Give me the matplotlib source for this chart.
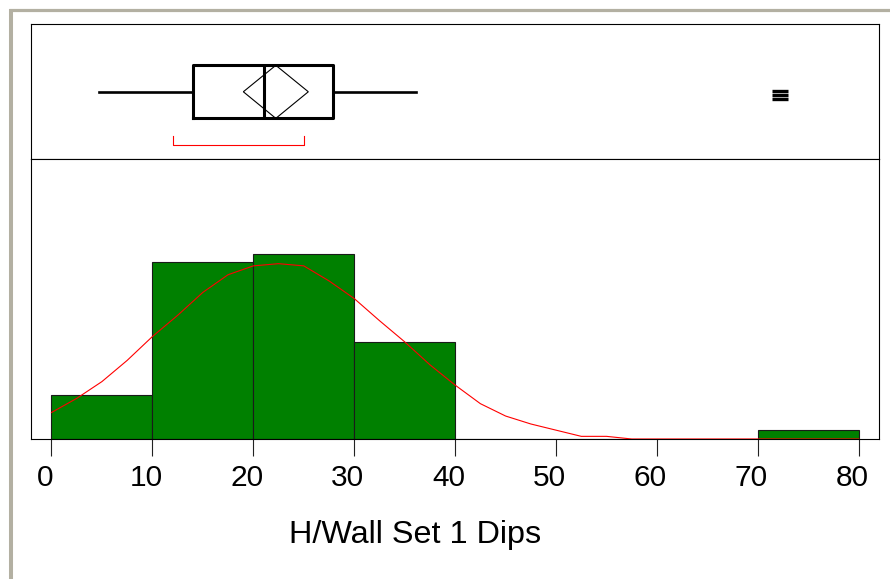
import matplotlib
matplotlib.use("Agg")
import matplotlib.pyplot as plt
import matplotlib.transforms as mtransforms
from matplotlib.lines import Line2D
from matplotlib.patches import Polygon
from matplotlib.path import Path

plt.rcParams['font.family'] = ['Liberation Sans', 'DejaVu Sans']

# Histogram of H/Wall Set 1 dips
bin_edges = [0, 10, 20, 30, 40, 50, 60, 70, 80]
bin_counts = [5, 20, 21, 11, 0, 0, 0, 1]

# Fitted normal curve (counts per bin)
curve_x = [0, 2.5, 5, 7.5, 10, 12.5, 15, 17.5, 20, 22.5, 25, 27.5, 30, 32.5,
           35, 37.5, 40, 42.5, 45, 47.5, 50, 52.5, 55, 57.5, 60, 62.5, 65,
           67.5, 70, 72.5, 75, 77.5, 80]
curve_y = [3.0, 4.6, 6.5, 8.9, 11.6, 14.0, 16.6, 18.6, 19.6, 19.85, 19.6,
           17.9, 15.9, 13.4, 11.0, 8.4, 6.1, 4.0, 2.6, 1.7, 1.0, 0.3, 0.3,
           0, 0, 0, 0, 0, 0, 0, 0, 0, 0]

# Outlier box plot summary
box_stats = dict(whislo=4.74, q1=14.05, med=21.06, q3=27.9, whishi=36.1)
outliers = [72.2]
mean_value = 22.23
mean_ci = (19.01, 25.45)
shortest_half = (12.07, 25.05)

xticks = [0, 10, 20, 30, 40, 50, 60, 70, 80]
xlabel = "H/Wall Set 1 Dips"

W, H = 890, 579
fig = plt.figure(figsize=(W / 100, H / 100), dpi=100)

def fx(px):
    return px / W

def fy(py):
    return 1 - py / H

left, right = 31, 879
top, mid, bottom = 24, 159, 439
ax_box = fig.add_axes([fx(left), fy(mid), fx(right - left), (mid - top) / H])
ax_hist = fig.add_axes([fx(left), fy(bottom), fx(right - left), (bottom - mid) / H],
                       sharex=ax_box)

xlim = (-2.03, 82.0)
ax_hist.set_xlim(*xlim)

# --- histogram panel
widths = [b - a for a, b in zip(bin_edges[:-1], bin_edges[1:])]
ax_hist.bar(bin_edges[:-1], bin_counts, width=widths, align='edge',
            color='#008000', edgecolor='#1a1a1a', linewidth=0.8, zorder=2)
ax_hist.plot(curve_x, curve_y, color='#ff0000', linewidth=0.8, zorder=3)
ax_hist.set_ylim(0, 31.7)
ax_hist.set_yticks([])
ax_hist.set_xticks(xticks)
ax_hist.set_xticklabels([str(t) for t in xticks])
ax_hist.tick_params(axis='x', length=12.5, width=0.8, pad=5.5, labelsize=21.5,
                    color='#222222')
shift = mtransforms.ScaledTranslation(-6.5 / 100, 0, fig.dpi_scale_trans)
for lab in ax_hist.get_xticklabels():
    lab.set_transform(lab.get_transform() + shift)
for s in ('left', 'right', 'bottom', 'top'):
    ax_hist.spines[s].set_linewidth(0.8)

ax_hist.set_xlabel(xlabel, fontsize=23.3)
ax_hist.xaxis.set_label_coords((415 - left) / (right - left),
                               (bottom - 543.5) / (bottom - mid))
ax_hist.xaxis.label.set_verticalalignment('baseline')

# --- box plot panel
ax_box.set_ylim(0, 1)
ax_box.tick_params(axis='both', which='both', length=0, labelbottom=False,
                   labelleft=False)
ax_box.set_yticks([])
for s in ax_box.spines.values():
    s.set_linewidth(0.8)

stats = dict(box_stats, fliers=[], label='')
ax_box.bxp([stats], positions=[0.498], widths=0.393, orientation='horizontal',
           showcaps=False, showfliers=False,
           boxprops=dict(color='black', linewidth=2.2),
           whiskerprops=dict(color='black', linewidth=1.9),
           medianprops=dict(color='black', linewidth=2.2))

# means diamond
d_top, d_bot, d_mid = 0.694, 0.301, 0.498
diamond = Polygon([(mean_ci[0], d_mid), (mean_value, d_top),
                   (mean_ci[1], d_mid), (mean_value, d_bot)],
                  closed=True, fill=False, edgecolor='black', linewidth=0.8,
                  zorder=4)
ax_box.add_patch(diamond)

# shortest half bracket
b_y, b_tip = 0.104, 0.170
ax_box.plot([shortest_half[0], shortest_half[0], shortest_half[1], shortest_half[1]],
            [b_tip, b_y, b_y, b_tip], color='#ff0000', linewidth=0.8)

# outlier symbol: stacked dashes
stack = Path([(-1, 0.45), (1, 0.45), (-1, 0), (1, 0), (-1, -0.45), (1, -0.45)],
             [Path.MOVETO, Path.LINETO, Path.MOVETO, Path.LINETO,
              Path.MOVETO, Path.LINETO])
ax_box.plot(outliers, [0.475] * len(outliers), linestyle='none', marker=stack,
            markersize=11.5, markeredgewidth=2.4, color='black')

# window-style frame
frame_col = '#b3b0a2'
fig.add_artist(Line2D([fx(10.7), fx(10.7)], [0, fy(8.5)], color=frame_col,
                      linewidth=2.9, solid_capstyle='butt'))
fig.add_artist(Line2D([fx(9.2), 1], [fy(10), fy(10)], color=frame_col,
                      linewidth=2.3, solid_capstyle='butt'))

fig.savefig('out.png', dpi=100)
